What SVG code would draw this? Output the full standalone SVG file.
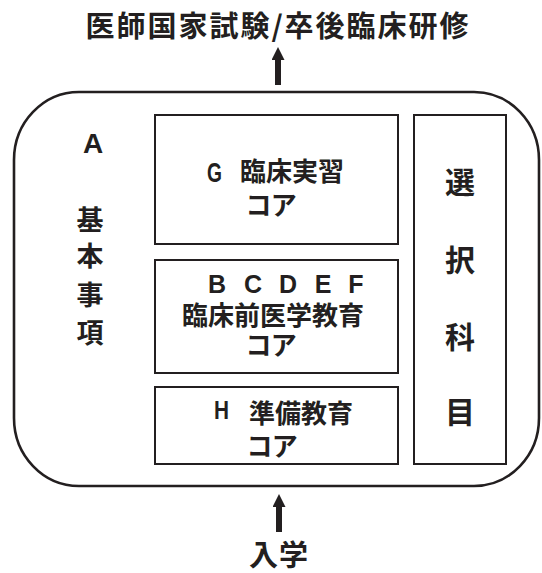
<svg xmlns="http://www.w3.org/2000/svg" width="542" height="573" viewBox="0 0 542 573">
<defs>
<style>
.box{fill:none;stroke:#231f20;stroke-width:2}
.outer{fill:none;stroke:#231f20;stroke-width:2.6}
.jp{font-family:"Noto Sans CJK JP","Liberation Sans",sans-serif;font-weight:700;fill:#231f20}
.lat{font-family:"Liberation Sans","Noto Sans CJK JP",sans-serif;font-weight:700;fill:#231f20}
.mid{text-anchor:middle}
.kana{font-feature-settings:"palt" 1}
.arrow{stroke:#231f20;stroke-width:6;fill:none}
</style>
<marker id="ah" markerUnits="userSpaceOnUse" markerWidth="14" markerHeight="13" refX="0" refY="6.5" orient="auto" viewBox="0 0 14 13">
<path d="M0,0 L13,6.5 L0,13 Z" fill="#231f20"/>
</marker>
</defs>
<rect width="542" height="573" fill="#fff"/>

<g id="title">
<text class="jp mid" x="278" y="37" font-size="29" letter-spacing="2">医師国家試験/卒後臨床研修</text>
</g>

<g id="curriculum">
<rect class="outer" x="14" y="92" width="525" height="394" rx="65" ry="68"/>
</g>

<g id="basic">
<text class="lat mid" x="93" y="153" font-size="28">A</text>
<text class="jp mid" x="90" y="230" font-size="27">基</text>
<text class="jp mid" x="90" y="266" font-size="27">本</text>
<text class="jp mid" x="90" y="305" font-size="27">事</text>
<text class="jp mid" x="90" y="343" font-size="27">項</text>
</g>

<g id="clinical">
<rect class="box" x="155" y="115" width="243" height="129"/>
<text class="lat" x="207" y="182" font-size="27" textLength="15" lengthAdjust="spacingAndGlyphs">G</text>
<text class="jp" x="240" y="181" font-size="26">臨床実習</text>
<text class="jp mid kana" x="271" y="215" font-size="26">コア</text>
</g>

<g id="preclinical">
<rect class="box" x="155" y="260" width="243" height="113"/>
<text class="lat mid" x="217 253 288 323 356" y="293" font-size="25">BCDEF</text>
<text class="jp" x="182" y="325" font-size="26">臨床前医学教育</text>
<text class="jp mid kana" x="271" y="355" font-size="26">コア</text>
</g>

<g id="preparatory">
<rect class="box" x="155" y="387" width="243" height="77"/>
<text class="lat" x="214" y="419" font-size="26" textLength="15" lengthAdjust="spacingAndGlyphs">H</text>
<text class="jp" x="249" y="423" font-size="26">準備教育</text>
<text class="jp mid kana" x="272" y="456" font-size="26">コア</text>
</g>

<g id="elective">
<rect class="box" x="414" y="115" width="92" height="349"/>
<text class="jp mid" x="460" y="193" font-size="30">選</text>
<text class="jp mid" x="460" y="271" font-size="30">択</text>
<text class="jp mid" x="460" y="348" font-size="30">科</text>
<text class="jp mid" x="460" y="423" font-size="30">目</text>
</g>

<g id="entry">
<text class="jp mid" x="279" y="566" font-size="29" letter-spacing="1">入学</text>
</g>

<g id="connectors">
<line class="arrow" x1="278" y1="85" x2="278" y2="60" marker-end="url(#ah)"/>
<line class="arrow" x1="279" y1="532" x2="279" y2="507" marker-end="url(#ah)"/>
</g>
</svg>
